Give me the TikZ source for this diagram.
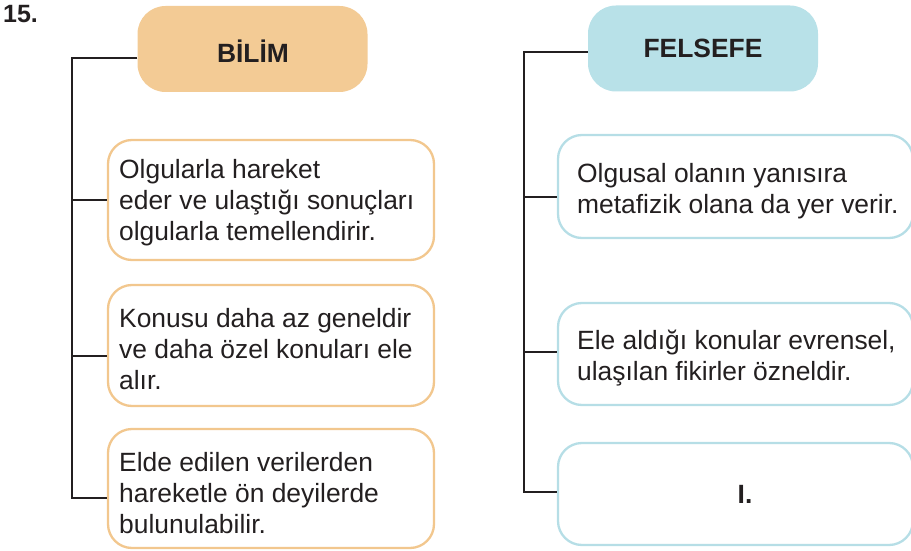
\documentclass[tikz,border=0pt]{standalone}
\usepackage{fontspec}
\setmainfont{Liberation Sans}
\definecolor{ink}{HTML}{231F20}
\definecolor{orfill}{HTML}{F3CB95}
\definecolor{orline}{HTML}{F2C78E}
\definecolor{blfill}{HTML}{B8E1E8}
\definecolor{blline}{HTML}{B6DEE6}
\tikzset{
  conn/.style={draw=ink, line width=2.2pt, line join=miter},
  headbox/.style={rounded corners=28pt, inner sep=0pt, minimum width=230pt, minimum height=86pt},
  obox/.style={draw=orline, line width=2.3pt, fill=white, rounded corners=24pt, inner sep=0pt},
  bbox/.style={draw=blline, line width=2.3pt, fill=white, rounded corners=24pt, inner sep=0pt},
  bodytext/.style={font=\fontsize{26.4}{31}\selectfont, text=ink, align=left, inner sep=0pt, anchor=north west},
  headtext/.style={font=\fontsize{26.4}{31}\selectfont\bfseries, text=ink, inner sep=0pt, anchor=base}
}
\begin{document}
\begin{tikzpicture}[x=1pt, y=-1pt]
\useasboundingbox (0,0) rectangle (911,551);
% number
\node[font=\fontsize{25}{30}\selectfont\bfseries, text=ink, inner sep=0pt, anchor=base west] (num) at (3,23) {15.};
% left column
\node[headbox, fill=orfill] (bilim) at (252.5,49) {};
\node[headtext] (bilimT) at (253,63) {BİLİM};
\node[obox, minimum width=326pt, minimum height=120pt] (b1) at (271,200) {};
\node[obox, minimum width=326pt, minimum height=121pt] (b2) at (271,345.5) {};
\node[obox, minimum width=326pt, minimum height=119pt] (b3) at (271,488.5) {};
\node[bodytext] (t1) at (119,159) {Olgularla hareket\\eder ve ulaştığı sonuçları\\olgularla temellendirir.};
\node[bodytext] (t2) at (119,308) {Konusu daha az geneldir\\ve daha özel konuları ele\\alır.};
\node[bodytext] (t3) at (119,452.5) {Elde edilen verilerden\\hareketle ön deyilerde\\bulunulabilir.};
\coordinate (lspine) at (72,498);
\draw[conn] ([yshift=-9pt]bilim.west) -| (lspine) -- ([yshift=-9.5pt]b3.west);
\draw[conn] (b1.west) -- (b1.west -| lspine);
\draw[conn] ([yshift=-10.5pt]b2.west) -- ([yshift=-10.5pt]b2.west -| lspine);
% right column
\node[headbox, fill=blfill] (fels) at (703,48.5) {};
\node[headtext] (felsT) at (703,58) {FELSEFE};
\node[bbox, minimum width=355pt, minimum height=103pt] (r1) at (735.5,186.5) {};
\node[bbox, minimum width=355pt, minimum height=102pt] (r2) at (735.5,354) {};
\node[bbox, minimum width=355pt, minimum height=102pt] (r3) at (735.5,494) {};
\node[bodytext] (u1) at (577,163) {Olgusal olanın yanısıra\\metafizik olana da yer verir.};
\node[bodytext] (u2) at (577,330) {Ele aldığı konular evrensel,\\ulaşılan fikirler özneldir.};
\node[headtext] (u3) at (745,503) {I.};
\coordinate (rspine) at (524,492);
\draw[conn] ([yshift=-3.5pt]fels.west) -| (rspine) -- ([yshift=2pt]r3.west);
\draw[conn] ([yshift=-10.5pt]r1.west) -- ([yshift=-10.5pt]r1.west -| rspine);
\draw[conn] ([yshift=2pt]r2.west) -- ([yshift=2pt]r2.west -| rspine);
\end{tikzpicture}
\end{document}
